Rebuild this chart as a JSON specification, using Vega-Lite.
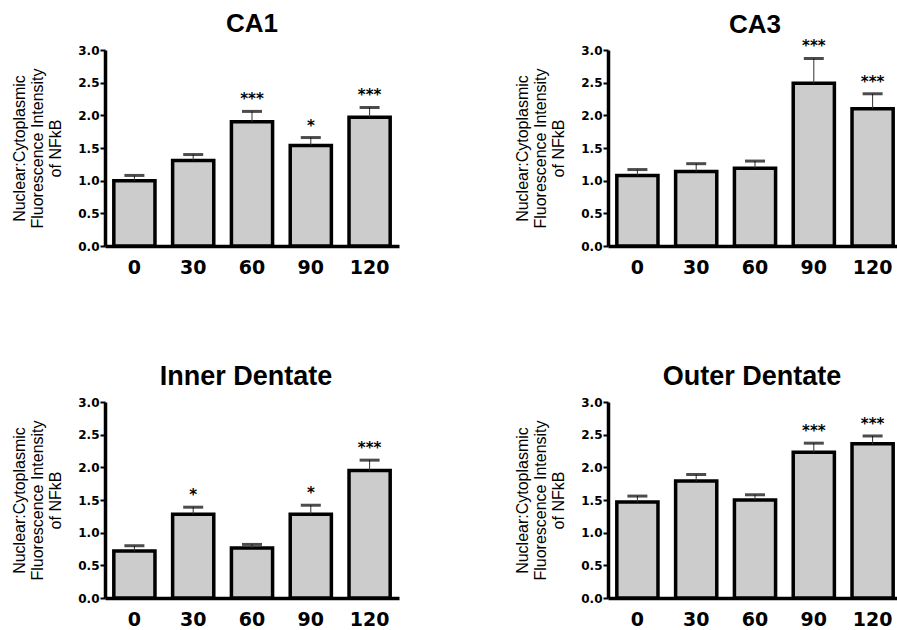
{
  "$schema": "https://vega.github.io/schema/vega-lite/v6.json",
  "padding": {"left": 10, "top": 11, "right": 0, "bottom": 0},
  "background": "white",
  "datasets": {
    "d": [
      {"region": "CA1", "time": 0, "v": 1.0, "u": 1.08, "sig": ""},
      {"region": "CA1", "time": 30, "v": 1.31, "u": 1.4, "sig": ""},
      {"region": "CA1", "time": 60, "v": 1.9, "u": 2.06, "sig": "***"},
      {"region": "CA1", "time": 90, "v": 1.54, "u": 1.66, "sig": "*"},
      {"region": "CA1", "time": 120, "v": 1.97, "u": 2.12, "sig": "***"},
      {"region": "CA3", "time": 0, "v": 1.08, "u": 1.17, "sig": ""},
      {"region": "CA3", "time": 30, "v": 1.14, "u": 1.26, "sig": ""},
      {"region": "CA3", "time": 60, "v": 1.19, "u": 1.3, "sig": ""},
      {"region": "CA3", "time": 90, "v": 2.49, "u": 2.87, "sig": "***"},
      {"region": "CA3", "time": 120, "v": 2.1, "u": 2.33, "sig": "***"},
      {"region": "Inner Dentate", "time": 0, "v": 0.72, "u": 0.8, "sig": ""},
      {"region": "Inner Dentate", "time": 30, "v": 1.28, "u": 1.39, "sig": "*"},
      {"region": "Inner Dentate", "time": 60, "v": 0.765, "u": 0.82, "sig": ""},
      {"region": "Inner Dentate", "time": 90, "v": 1.28, "u": 1.42, "sig": "*"},
      {"region": "Inner Dentate", "time": 120, "v": 1.95, "u": 2.11, "sig": "***"},
      {"region": "Outer Dentate", "time": 0, "v": 1.47, "u": 1.56, "sig": ""},
      {"region": "Outer Dentate", "time": 30, "v": 1.79, "u": 1.89, "sig": ""},
      {"region": "Outer Dentate", "time": 60, "v": 1.5, "u": 1.58, "sig": ""},
      {"region": "Outer Dentate", "time": 90, "v": 2.23, "u": 2.37, "sig": "***"},
      {"region": "Outer Dentate", "time": 120, "v": 2.36, "u": 2.48, "sig": "***"}
    ]
  },
  "data": {"name": "d"},
  "columns": 2,
  "spacing": {"row": 86, "column": 114},
  "concat": [
    {
      "title": {"text": "CA1", "frame": "group", "offset": 7},
      "width": 294, "height": 196,
      "transform": [{"filter": "datum.region == 'CA1'"}],
      "encoding": {
        "x": {"field": "time", "type": "ordinal", "scale": {"paddingInner": 0.3, "paddingOuter": 0.15}, "axis": {"title": null}}
      },
      "layer": [
        {"mark": {"type": "bar", "fill": "#cccccc", "stroke": "black", "strokeWidth": 3.5},
         "encoding": {"y": {"field": "v", "type": "quantitative", "scale": {"domain": [0, 3], "nice": false}, "axis": {"title": ["Nuclear:Cytoplasmic", "Fluorescence Intensity", "of NFkB"]}}}},
        {"mark": {"type": "rule", "color": "#333333", "strokeWidth": 1},
         "encoding": {"y": {"field": "v", "type": "quantitative", "axis": {"title": ["Nuclear:Cytoplasmic", "Fluorescence Intensity", "of NFkB"]}}, "y2": {"field": "u"}}},
        {"mark": {"type": "tick", "color": "black", "size": 20, "thickness": 3},
         "encoding": {"y": {"field": "u", "type": "quantitative", "axis": {"title": ["Nuclear:Cytoplasmic", "Fluorescence Intensity", "of NFkB"]}}}},
        {"transform": [{"filter": "datum.sig != ''"}],
         "mark": {"type": "text", "font": "DejaVu Sans", "fontWeight": "bold", "fontSize": 15, "baseline": "alphabetic", "dy": -7, "color": "black"},
         "encoding": {"y": {"field": "u", "type": "quantitative", "axis": {"title": ["Nuclear:Cytoplasmic", "Fluorescence Intensity", "of NFkB"]}}, "text": {"field": "sig"}}}
      ]
    },
    {
      "title": {"text": "CA3", "frame": "group", "offset": 7, "dy": 6},
      "width": 294, "height": 196,
      "transform": [{"filter": "datum.region == 'CA3'"}],
      "encoding": {
        "x": {"field": "time", "type": "ordinal", "scale": {"paddingInner": 0.3, "paddingOuter": 0.15}, "axis": {"title": null}}
      },
      "layer": [
        {"mark": {"type": "bar", "fill": "#cccccc", "stroke": "black", "strokeWidth": 3.5},
         "encoding": {"y": {"field": "v", "type": "quantitative", "scale": {"domain": [0, 3], "nice": false}, "axis": {"title": ["Nuclear:Cytoplasmic", "Fluorescence Intensity", "of NFkB"]}}}},
        {"mark": {"type": "rule", "color": "#333333", "strokeWidth": 1},
         "encoding": {"y": {"field": "v", "type": "quantitative", "axis": {"title": ["Nuclear:Cytoplasmic", "Fluorescence Intensity", "of NFkB"]}}, "y2": {"field": "u"}}},
        {"mark": {"type": "tick", "color": "black", "size": 20, "thickness": 3},
         "encoding": {"y": {"field": "u", "type": "quantitative", "axis": {"title": ["Nuclear:Cytoplasmic", "Fluorescence Intensity", "of NFkB"]}}}},
        {"transform": [{"filter": "datum.sig != ''"}],
         "mark": {"type": "text", "font": "DejaVu Sans", "fontWeight": "bold", "fontSize": 15, "baseline": "alphabetic", "dy": -7, "color": "black"},
         "encoding": {"y": {"field": "u", "type": "quantitative", "axis": {"title": ["Nuclear:Cytoplasmic", "Fluorescence Intensity", "of NFkB"]}}, "text": {"field": "sig"}}}
      ]
    },
    {
      "title": {"text": "Inner Dentate", "frame": "group", "fontSize": 27, "offset": 5, "dx": -6},
      "width": 294, "height": 196,
      "transform": [{"filter": "datum.region == 'Inner Dentate'"}],
      "encoding": {
        "x": {"field": "time", "type": "ordinal", "scale": {"paddingInner": 0.3, "paddingOuter": 0.15}, "axis": {"title": null}}
      },
      "layer": [
        {"mark": {"type": "bar", "fill": "#cccccc", "stroke": "black", "strokeWidth": 3.5},
         "encoding": {"y": {"field": "v", "type": "quantitative", "scale": {"domain": [0, 3], "nice": false}, "axis": {"title": ["Nuclear:Cytoplasmic", "Fluorescence Intensity", "of NFkB"]}}}},
        {"mark": {"type": "rule", "color": "#333333", "strokeWidth": 1},
         "encoding": {"y": {"field": "v", "type": "quantitative", "axis": {"title": ["Nuclear:Cytoplasmic", "Fluorescence Intensity", "of NFkB"]}}, "y2": {"field": "u"}}},
        {"mark": {"type": "tick", "color": "black", "size": 20, "thickness": 3},
         "encoding": {"y": {"field": "u", "type": "quantitative", "axis": {"title": ["Nuclear:Cytoplasmic", "Fluorescence Intensity", "of NFkB"]}}}},
        {"transform": [{"filter": "datum.sig != ''"}],
         "mark": {"type": "text", "font": "DejaVu Sans", "fontWeight": "bold", "fontSize": 15, "baseline": "alphabetic", "dy": -7, "color": "black"},
         "encoding": {"y": {"field": "u", "type": "quantitative", "axis": {"title": ["Nuclear:Cytoplasmic", "Fluorescence Intensity", "of NFkB"]}}, "text": {"field": "sig"}}}
      ]
    },
    {
      "title": {"text": "Outer Dentate", "frame": "group", "fontSize": 27, "offset": 5, "dx": -3},
      "width": 294, "height": 196,
      "transform": [{"filter": "datum.region == 'Outer Dentate'"}],
      "encoding": {
        "x": {"field": "time", "type": "ordinal", "scale": {"paddingInner": 0.3, "paddingOuter": 0.15}, "axis": {"title": null}}
      },
      "layer": [
        {"mark": {"type": "bar", "fill": "#cccccc", "stroke": "black", "strokeWidth": 3.5},
         "encoding": {"y": {"field": "v", "type": "quantitative", "scale": {"domain": [0, 3], "nice": false}, "axis": {"title": ["Nuclear:Cytoplasmic", "Fluorescence Intensity", "of NFkB"]}}}},
        {"mark": {"type": "rule", "color": "#333333", "strokeWidth": 1},
         "encoding": {"y": {"field": "v", "type": "quantitative", "axis": {"title": ["Nuclear:Cytoplasmic", "Fluorescence Intensity", "of NFkB"]}}, "y2": {"field": "u"}}},
        {"mark": {"type": "tick", "color": "black", "size": 20, "thickness": 3},
         "encoding": {"y": {"field": "u", "type": "quantitative", "axis": {"title": ["Nuclear:Cytoplasmic", "Fluorescence Intensity", "of NFkB"]}}}},
        {"transform": [{"filter": "datum.sig != ''"}],
         "mark": {"type": "text", "font": "DejaVu Sans", "fontWeight": "bold", "fontSize": 15, "baseline": "alphabetic", "dy": -7, "color": "black"},
         "encoding": {"y": {"field": "u", "type": "quantitative", "axis": {"title": ["Nuclear:Cytoplasmic", "Fluorescence Intensity", "of NFkB"]}}, "text": {"field": "sig"}}}
      ]
    }
  ],
  "config": {
    "view": {"stroke": null},
    "title": {"frame": "group", "offset": 5, "baseline": "alphabetic", "fontSize": 26, "font": "Liberation Sans", "fontWeight": "bold", "anchor": "middle", "color": "black"},
    "axis": {"grid": false, "domainColor": "black", "domainWidth": 3.5, "tickColor": "black", "labelColor": "black", "titleColor": "black"},
    "axisX": {"ticks": false, "labelAngle": 0, "labelFont": "DejaVu Sans", "labelFontWeight": "bold", "labelFontSize": 19, "labelPadding": 12},
    "axisY": {"values": [0, 0.5, 1, 1.5, 2, 2.5, 3], "format": ".1f", "tickSize": 5, "tickWidth": 2, "labelPadding": 1, "labelFlush": false, "labelOverlap": false, "labelFont": "DejaVu Sans", "labelFontWeight": "bold", "labelFontSize": 12, "titleFont": "Liberation Sans", "titleFontSize": 16, "titleFontWeight": "normal", "titleLineHeight": 18, "titleAngle": -90, "titleX": -78, "titleY": 98, "titleBaseline": "bottom", "titleAlign": "center"}
  }
}
